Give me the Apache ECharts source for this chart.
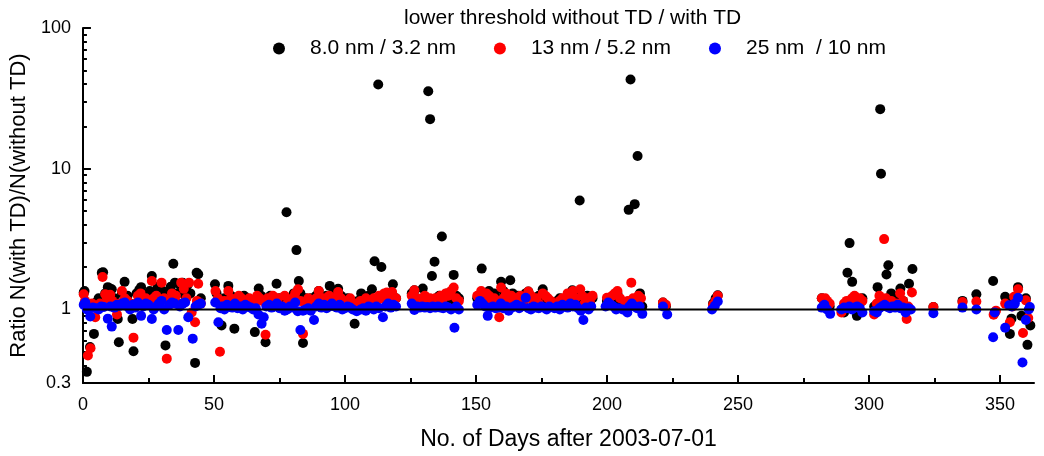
<!DOCTYPE html>
<html><head><meta charset="utf-8">
<script src="https://cdn.jsdelivr.net/npm/echarts@6/dist/echarts.min.js"></script>
<style>html,body{margin:0;padding:0;background:#fff}#c{width:1044px;height:456px}</style>
</head><body><div id="c"></div>
<script>
const legendTitle = 'lower threshold without TD / with TD';
const seriesNames = ['8.0 nm / 3.2 nm', '13 nm / 5.2 nm', '25 nm  / 10 nm'];
const xName = 'No. of Days after 2003-07-01';
const yName = 'Ratio N(with TD)/N(without TD)';
const xMajorTicks = [0, 50, 100, 150, 200, 250, 300, 350];
const xMinorTicks = [25, 75, 125, 175, 225, 275, 325];
const yLabelTicks = [0.3, 1, 10, 100];
const yMajorTicks = [0.3, 1, 10, 100];
const yMinorTicks = [0.4, 0.5, 0.6, 0.7, 0.8, 0.9, 2, 3, 4, 5, 6, 7, 8, 9, 20, 30, 40, 50, 60, 70, 80, 90];
const refLine = [[0, 1], [363, 1]];

// [day, ratio]
const blackPts = [
[0.3,1.32],[0.6,1.35],[1.5,0.36],[2.7,0.54],[3.3,1.05],[4.2,0.67],[5,1.12],[6,1.2],[7.2,1.82],[7.7,1.84],[8.5,1.3],[9.5,1.44],[10.4,1.4],[11,1.39],[12,1.2],[12.8,1.1],[13.3,0.855],[13.7,0.585],[14.9,1.3],[15.9,1.57],[17,1.25],[18,1.1],[18.9,0.855],[19.3,0.505],[20.5,1.3],[21.5,1.38],[22.2,1.44],[23.5,1.2],[24.5,1.25],[25.5,1.35],[26.3,1.73],[27.5,1.3],[28.5,1.45],[29.5,1.25],[30.5,1.35],[31.5,0.555],[32.5,1.3],[33.5,1.45],[34.5,2.11],[35.1,1.55],[36,1.3],[37,1.5],[38,1.55],[39,1.25],[40,1.5],[41,1.3],[42.8,0.417],[43.4,1.82],[44,1.78],[45,1.2],
[50.4,1.51],[51,1.3],[52.9,0.77],[54,1.2],[55.5,1.47],[56.5,1.25],[57.8,0.73],[58.5,1.15],[59.5,1.2],[60.5,1.1],[61.5,1.25],[62.5,1.2],[63.5,1.15],[64.5,1.1],[65.6,0.69],[66.3,1.2],[67.1,1.41],[68,1.25],[69.7,0.585],[70.5,1.2],[71.5,1.25],[72.5,1.15],[73.9,1.52],[75,1.2],[76,1.1],[77.7,4.9],[78.5,1.15],[79.5,1.2],[80.5,1.3],[81.5,2.64],[82.4,1.59],[83,1.3],[84,0.577],[85,1.2],[86,1.15],[87,1.2],[88,1.1],[89,1.25],[90,1.35],[91,1.2],[92,1.15],[93,1.25],[94.2,1.47],[95.5,1.3],[96.5,1.2],[97.4,1.4],[98.5,1.25],[99.5,1.15],[101,1.2],[102,1.1],[103.7,0.79],[105,1.15],[106.2,1.3],[107,1.2],[108,1.1],[109,1.25],[110.3,1.39],[111.3,2.2],[112.7,39.7],[113.9,2.0],[115,1.2],[116,1.3],[117,1.25],[118.3,1.51],[119.5,1.2],
[125.5,1.3],[126.5,1.37],[127.5,1.2],[128.5,1.1],[129.7,1.41],[130.5,1.15],[131.8,35.5],[132.5,22.5],[133.2,1.73],[134.2,2.18],[135,1.2],[136,1.25],[137,3.3],[138,1.2],[139,1.3],[140,1.15],[141.5,1.76],[142.5,1.25],[143.5,1.2],
[150.5,1.2],[151.5,1.1],[152.2,1.95],[153,1.3],[154,1.2],[155,1.35],[156,1.25],[157,1.3],[158,1.2],[159.6,1.57],[160.5,1.35],[161.5,1.25],[163.1,1.61],[164,1.3],[165,1.2],[166,1.25],[167,1.1],[168,1.2],[169,1.3],[170,1.34],[171,1.2],[172,1.1],[173,1.15],[174,1.25],[175.5,1.39],[176.5,1.2],[177.5,1.15],[178.5,1.1],[180,1.05],[181,1.15],[182,1.2],[183,1.1],[184,1.15],[185,1.25],[186.8,1.37],[188,1.3],[189.6,5.95],[190.5,1.15],[191.5,1.2],[192.5,1.25],[193.5,1.1],[194.5,1.2],
[200,1.15],[201,1.2],[202,1.1],[203,1.25],[204,1.3],[205,1.15],[207,1.1],[208.3,5.1],[209,43],[210.6,5.6],[211.7,12.3],[212.6,1.3],[213.5,1.05],
[221.4,1.12],[222.5,1.05],
[240.5,1.1],[241.5,1.2],[242.3,1.26],
[282,1.2],[283,1.15],[284,1.1],[285,1.05],[289.5,1.0],[290.5,0.95],[291.8,1.82],[292.6,2.96],[293.6,1.57],[294.5,1.05],[295.4,0.9],[296.5,1.1],[297.5,1.2],
[302,1.05],[303.3,1.44],[304.3,26.5],[304.6,9.2],[305.5,1.1],[306.7,1.77],[307.4,2.06],[308.5,1.3],[309.5,1.1],[310.5,1.2],[311,1.05],[312,1.41],[313,1.15],[314,1.0],[315.3,1.52],[316.6,1.94],
[324.6,1.04],[335.7,1.15],[341,1.28],[347.4,1.59],[348,0.95],[352,1.23],[353,1.1],[353.8,0.67],[354.4,0.86],[355.5,1.2],[356.9,1.44],[358.2,0.9],[359.9,1.2],[360.5,0.56],[361.6,0.77]
];
const redPts = [
[0.3,1.28],[0.8,1.15],[1.9,0.47],[2.9,0.53],[3.5,1.1],[4.7,0.88],[5.5,1.05],[6.5,1.1],[7.5,1.7],[8.5,1.28],[9.2,1.2],[10.4,1.27],[11.2,1.15],[12,1.05],[13,0.92],[14,1.1],[14.9,1.35],[16,1.2],[17,1.15],[18,1.05],[19.3,0.63],[20,1.1],[21,1.25],[22,1.3],[23,1.15],[24,1.2],[25,1.1],[26.3,1.59],[27,1.2],[28,1.25],[29,1.1],[30,1.55],[31,1.2],[32,0.447],[33,1.15],[34,1.3],[35.5,1.25],[36.5,1.1],[37.5,1.55],[38.5,1.4],[39.5,1.2],[40.5,1.55],[41.5,0.95],[42.8,0.81],[43.5,1.15],[44,1.52],[45,1.1],
[50.6,1.35],[51.5,1.2],[52.3,0.50],[53,1.1],[54,1.15],[55.5,1.35],[56.5,1.2],[57.5,1.1],[58.5,1.15],[59.5,1.25],[60.5,1.2],[61.5,1.1],[62.5,1.15],[63.5,1.2],[64.5,1.05],[65.5,1.1],[66.5,1.25],[67.5,1.2],[68.5,1.15],[69.7,0.66],[70.5,1.2],[71.5,1.1],[72.5,1.25],[73.5,1.15],[74.5,1.2],[75.5,1.05],[77,1.25],[78,1.1],[79,1.15],[80,1.2],[81,1.3],[82.1,1.39],[83,1.15],[84,0.67],[85,1.1],[86,1.2],[87,1.15],[88,1.05],[89,1.2],[90,1.35],[91,1.15],[92,1.2],[93,1.1],[94,1.25],[95,1.15],[96,1.2],[97.4,1.33],[98.5,1.2],[99.5,1.1],[101,1.15],[102,1.2],[103,1.05],[104.5,1.1],[106,1.15],[107,1.05],[108,1.2],[109,1.1],[110,1.15],[111,1.2],[112,1.1],[113,1.25],[114,1.2],[115,1.3],[116,1.32],[117,1.25],[118,1.33],[119.5,1.2],
[125.5,1.25],[126.5,1.37],[127.5,1.2],[128.5,1.15],[129.5,1.2],[130.5,1.25],[131.5,1.15],[132.5,1.2],[133.5,1.1],[134.5,1.2],[135.5,1.15],[136.5,1.25],[137.5,1.2],[138.5,1.3],[139.5,1.25],[140.5,1.35],[141.5,1.43],[142.5,1.2],[143.5,1.15],
[150.5,1.25],[151.5,1.15],[152,1.35],[153,1.2],[154,1.3],[155,1.25],[156,1.1],[157,1.2],[158.9,0.88],[159.6,1.43],[160.5,1.2],[161.5,1.3],[162.5,1.15],[163.5,1.25],[165,1.2],[166,1.15],[167,1.25],[168,1.1],[169,1.2],[170,1.34],[171,1.25],[172,1.15],[173,1.2],[174,1.1],[175.5,1.3],[176.5,1.25],[177.5,1.2],[178.5,1.15],[180,1.1],[181,1.05],[182,1.15],[183,1.2],[184,1.1],[185,1.3],[186,1.25],[187,1.35],[188,1.2],[189.8,1.39],[190.5,1.25],[191.5,1.1],[192.5,1.2],[193.5,1.15],[194.5,1.25],
[200,1.21],[200.8,1.18],[202,1.25],[203,1.3],[204,1.35],[205,1.2],[207,1.1],[208,1.15],[209.3,1.55],[210,1.2],[211,1.15],[212,1.25],[213,1.2],
[221.4,1.12],[222.5,1.08],
[240.5,1.08],[241.5,1.15],[242.3,1.25],
[282,1.2],[283.3,1.2],[284,1.15],[285,1.1],[289.5,0.95],[290.5,1.1],[291.5,1.15],[292.5,1.05],[293.5,1.2],[294.5,1.25],[295.5,1.1],[296.5,1.2],[297.5,1.15],
[302,0.92],[303,1.1],[304,1.25],[305,1.15],[305.8,3.16],[306.5,1.2],[307.5,1.1],[308.5,1.15],[309.5,1.05],[310.5,1.1],[311.9,1.30],[313,1.15],[314.4,0.855],[315,1.05],[316.4,1.32],
[324.6,1.04],[335.7,1.13],[341,1.14],[347.6,0.917],[348.5,0.98],[352,1.1],[353.8,0.81],[354.8,1.05],[355.4,1.23],[356.9,1.39],[358.8,0.68],[359.9,1.16],[360.8,0.87]
];
const bluePts = [
[0.3,1.08],[0.9,1.12],[1.5,1.0],[2.8,0.89],[3.8,1.03],[5,1.02],[6,1.0],[7,1.05],[8,1.04],[9.5,0.86],[10.5,1.05],[11,0.755],[12,1.03],[13,1.08],[14,1.06],[15,1.1],[16,1.12],[17,1.05],[18,1.0],[19,1.08],[20,1.03],[21,1.12],[22.2,0.9],[23,1.05],[24,1.1],[25,1.08],[26.3,0.855],[27,1.0],[28,1.05],[29,1.1],[30,1.15],[31,1.0],[32,0.715],[33,1.08],[34,1.12],[35,1.1],[36.4,0.715],[37,1.05],[38,1.1],[39,1.12],[40.2,0.88],[41.9,0.62],[43,1.05],[44,1.08],[45,1.1],
[50.5,1.12],[51.7,0.81],[52.5,1.02],[53,1.05],[54,1.0],[55,1.08],[56,1.05],[57,1.03],[58,1.1],[59,1.02],[60,1.05],[61,1.0],[62,1.08],[63,1.05],[64,1.03],[65,1.0],[66,1.02],[67,0.92],[68.2,0.79],[69,0.88],[70,1.05],[71,1.08],[72,1.03],[73,1.05],[74,1.1],[75,1.02],[76,1.05],[77,0.98],[78,1.0],[79,1.05],[80,1.03],[81,1.12],[82,0.97],[83,0.715],[84,0.98],[85,1.0],[86,1.02],[87,0.98],[88.2,0.84],[89,1.05],[90,1.1],[91,1.03],[92,1.08],[93,1.02],[94,1.05],[95,1.1],[96,1.05],[97,1.03],[98,1.08],[99,1.0],[100,1.02],[101,1.05],[102,1.03],[103,1.0],[104.5,0.97],[106,1.0],[107,1.02],[108,0.98],[109,1.05],[110,1.03],[111,1.0],[112,1.05],[113,1.02],[114.5,0.88],[115.5,1.05],[116.5,1.1],[117.5,1.03],[118.5,1.08],[119.5,1.05],
[125.5,1.1],[126.5,0.99],[127.5,1.05],[128.5,1.03],[129.5,1.05],[130.5,1.03],[131.5,1.04],[132.5,1.02],[133.5,1.05],[134.5,1.03],[135.5,1.05],[136.5,1.03],[137.5,1.02],[138.5,1.05],[139.5,1.03],[140.5,1.0],[141.8,0.74],[142.5,1.05],[143.5,1.0],
[150.5,1.08],[151.5,1.15],[152.5,1.1],[153.5,1.05],[154.5,0.9],[155.5,1.03],[156.5,1.05],[157.5,1.02],[158.5,1.03],[159.5,1.1],[160.5,1.02],[161.5,1.05],[162.5,0.98],[163.5,1.03],[164.5,1.05],[165.5,1.08],[166.5,1.02],[167.5,1.05],[169,1.21],[170,1.02],[171,1.0],[172,1.05],[173,1.03],[174,1.02],[175,1.05],[176,1.03],[177,1.0],[178,1.05],[180,1.02],[181,1.05],[182,1.0],[183,1.08],[184,1.05],[185,1.03],[186,1.1],[187,1.05],[188,1.08],[189,1.02],[190,0.98],[191,0.84],[192,1.03],[193,1.0],[194,1.05],
[199.5,1.05],[200.5,1.12],[201.5,1.08],[202.5,1.05],[203.5,1.0],[204.5,1.02],[206,1.0],[207.8,0.95],[208.5,1.05],[209.5,1.1],[210.5,1.05],[211.5,1.02],[212.5,1.05],[213.5,0.93],
[221.4,1.05],[223,0.92],
[240.1,1.0],[241.2,1.06],[242.3,1.14],
[282,1.03],[283,1.08],[284,1.0],[285.2,0.93],[289.5,1.0],[290.5,1.03],[291.5,1.02],[292.5,1.05],[293.5,1.0],[294.5,1.03],[295.5,1.05],[296.5,1.02],[297.5,0.95],
[302,0.97],[303,0.95],[304,1.02],[305,1.05],[306,1.08],[307,1.04],[308,1.02],[309,1.05],[310,1.03],[311,1.08],[312,1.02],[313,1.03],[314,0.95],[315,1.02],[316,1.0],
[324.6,0.94],[335.7,1.03],[341,1.0],[347.4,0.635],[348,0.95],[352,0.74],[353.5,1.07],[354.5,1.05],[355.7,1.1],[356.9,1.21],[358.6,0.42],[359.9,0.84],[361,1.0],[361.4,1.04]
];

const colors = ['#000000', '#ff0000', '#0000ff'];
const FONT = '"Liberation Sans", Arial, sans-serif';
const chart = echarts.init(document.getElementById('c'), null, {renderer: 'canvas'});

const axisLineStyle = {color: '#000', width: 2};
const option = {
  animation: false,
  backgroundColor: '#fff',
  textStyle: {fontFamily: FONT, color: '#000'},
  title: {
    text: legendTitle, left: 399, top: 3,
    textStyle: {fontFamily: FONT, fontSize: 21, fontWeight: 'normal', color: '#000'}
  },
  legend: {
    left: 268, top: 33, orient: 'horizontal',
    itemWidth: 52, itemHeight: 12, itemGap: 38,
    textStyle: {fontFamily: FONT, fontSize: 21, color: '#000'},
    data: seriesNames.map(n => ({name: n, icon: 'circle'}))
  },
  grid: {left: 81, right: 10, top: 28, bottom: 70, containLabel: false},
  xAxis: [{
    type: 'value', min: 0, max: 363,
    name: xName, nameLocation: 'middle', nameGap: 45,
    nameTextStyle: {fontFamily: FONT, fontSize: 23, color: '#000', padding: [0, 0, 0, 20]},
    axisLine: {show: true, lineStyle: axisLineStyle},
    axisTick: {show: true, inside: true, length: 8, lineStyle: {width: 2, color: '#000'}, customValues: xMajorTicks},
    axisLabel: {fontFamily: FONT, fontSize: 18, color: '#000', margin: 13, customValues: xMajorTicks},
    splitLine: {show: false}
  }, {
    type: 'value', min: 0, max: 363, position: 'bottom',
    axisLine: {show: false},
    axisTick: {show: true, inside: true, length: 5, lineStyle: {width: 2, color: '#000'}, customValues: xMinorTicks},
    axisLabel: {show: false},
    splitLine: {show: false}
  }],
  yAxis: [{
    type: 'log', logBase: 10, min: 0.3, max: 100,
    name: yName, nameLocation: 'middle', nameGap: 48, nameRotate: 90,
    nameTextStyle: {fontFamily: FONT, fontSize: 22, color: '#000', padding: [0, 0, 0, 0]},
    axisLine: {show: true, lineStyle: axisLineStyle},
    axisTick: {show: true, inside: true, length: 8, lineStyle: {width: 2, color: '#000'}, customValues: yMajorTicks},
    axisLabel: {fontFamily: FONT, fontSize: 18, color: '#000', margin: 12, customValues: yLabelTicks,
      formatter: v => String(Math.round(v * 10) / 10)},
    splitLine: {show: false}
  }, {
    type: 'log', logBase: 10, min: 0.3, max: 100, position: 'left',
    axisLine: {show: false},
    axisTick: {show: true, inside: true, length: 4, lineStyle: {width: 2, color: '#000'}, customValues: yMinorTicks},
    axisLabel: {show: false},
    splitLine: {show: false}
  }],
  series: [
    {name: seriesNames[0], type: 'scatter', data: blackPts, symbol: 'circle', symbolSize: 10, itemStyle: {color: colors[0], opacity: 1}, z: 2},
    {name: seriesNames[1], type: 'scatter', data: redPts, symbol: 'circle', symbolSize: 10, itemStyle: {color: colors[1], opacity: 1}, z: 3},
    {name: seriesNames[2], type: 'scatter', data: bluePts, symbol: 'circle', symbolSize: 10, itemStyle: {color: colors[2], opacity: 1}, z: 4},
    {type: 'line', data: refLine, symbol: 'none', lineStyle: {color: '#000', width: 2}, z: 5, silent: true}
  ]
};
chart.setOption(option);
</script></body></html>
